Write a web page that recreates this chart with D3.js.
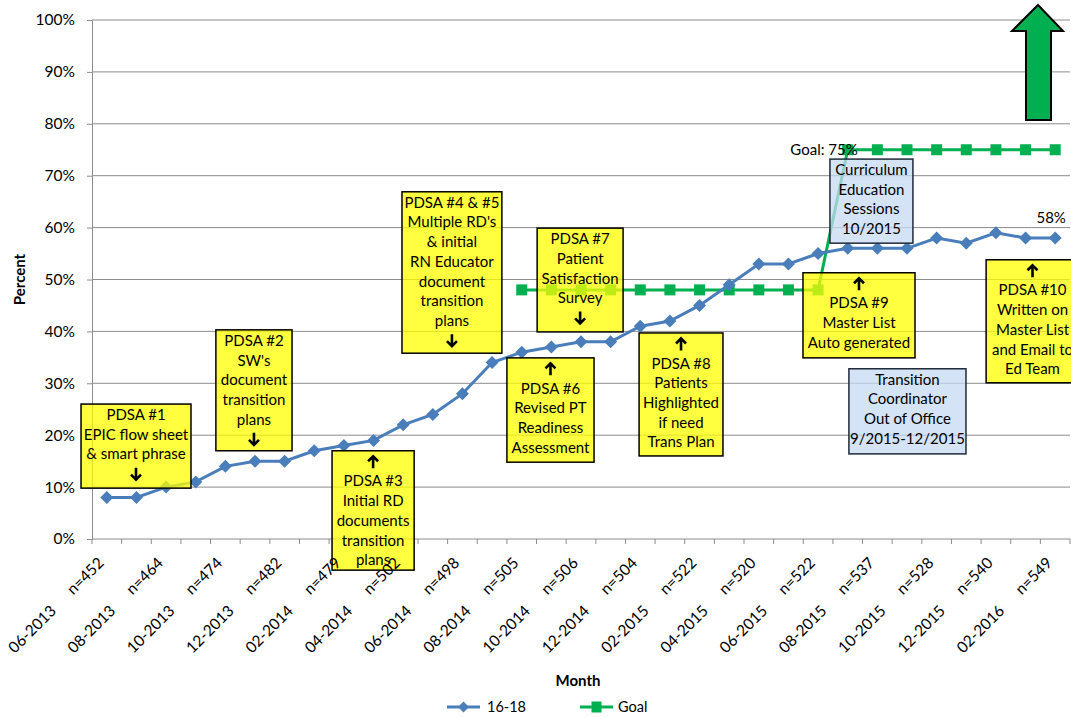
<!DOCTYPE html>
<html>
<head>
<meta charset="utf-8">
<title>Transition Plan Documentation</title>
<script src="https://d3js.org/d3.v7.min.js"></script>
<style>
    body { margin: 0; background: #fff; }
    text { font-family: Lato, "Open Sans", sans-serif; fill: #000; }
    .grid line { stroke: #8c8c8c; stroke-width: 1; }
    .note-text { font-size: 15px; }
</style>
</head>
<body>
<script>
    // months on the category axis
    var months = ["06-2013", "07-2013", "08-2013", "09-2013", "10-2013", "11-2013", "12-2013",
        "01-2014", "02-2014", "03-2014", "04-2014", "05-2014", "06-2014", "07-2014", "08-2014",
        "09-2014", "10-2014", "11-2014", "12-2014", "01-2015", "02-2015", "03-2015", "04-2015",
        "05-2015", "06-2015", "07-2015", "08-2015", "09-2015", "10-2015", "11-2015", "12-2015",
        "01-2016", "02-2016"];

    // sample sizes shown under every second month
    var sampleSizes = ["n=452", "n=464", "n=474", "n=482", "n=479", "n=502", "n=498", "n=505", "n=506",
        "n=504", "n=522", "n=520", "n=522", "n=537", "n=528", "n=540", "n=549"];

    // series "16-18" (percent)
    var rates = [8, 8, 10, 11, 14, 15, 15, 17, 18, 19, 22, 24, 28, 34, 36, 37, 38, 38, 41, 42, 45, 49,
        53, 53, 55, 56, 56, 56, 58, 57, 59, 58, 58];

    // series "Goal" (percent), empty before 10-2014
    var goal = [null, null, null, null, null, null, null, null, null, null, null, null, null, null,
        48, 48, 48, 48, 48, 48, 48, 48, 48, 48, 48,
        75, 75, 75, 75, 75, 75, 75, 75];

    var yTicks = [0, 10, 20, 30, 40, 50, 60, 70, 80, 90, 100];

    // call-out boxes: corners given in category units (x0,x1) and percent (y0 top, y1 bottom)
    var notes = [
        {lines: ["PDSA #1", "EPIC flow sheet", "& smart phrase"], arrow: "down", yellow: true, x0: -0.37, x1: 3.34, y0: 26.0, y1: 9.8},
        {lines: ["PDSA #2", "SW's", "document", "transition", "plans"], arrow: "down", yellow: true, x0: 4.18, x1: 6.75, y0: 40.3, y1: 17.0},
        {lines: ["PDSA #3", "Initial RD", "documents", "transition", "plans"], arrow: "up", yellow: true, x0: 8.10, x1: 10.87, y0: 17.0, y1: -6.0},
        {lines: ["PDSA #4 & #5", "Multiple RD's", "& initial", "RN Educator", "document", "transition", "plans"], arrow: "down", yellow: true, x0: 10.46, x1: 13.83, y0: 66.9, y1: 35.8},
        {lines: ["PDSA #6", "Revised PT", "Readiness", "Assessment"], arrow: "up", yellow: true, x0: 14.0, x1: 16.94, y0: 34.9, y1: 14.8},
        {lines: ["PDSA #7", "Patient", "Satisfaction", "Survey"], arrow: "down", yellow: true, x0: 15.02, x1: 17.92, y0: 59.9, y1: 39.9},
        {lines: ["PDSA #8", "Patients", "Highlighted", "if need", "Trans Plan"], arrow: "up", yellow: true, x0: 18.46, x1: 21.29, y0: 39.7, y1: 16.0},
        {lines: ["PDSA #9", "Master List", "Auto generated"], arrow: "up", yellow: true, x0: 23.99, x1: 27.77, y0: 51.3, y1: 34.9},
        {lines: ["PDSA #10", "Written on", "Master List", "and Email to", "Ed Team"], arrow: "up", yellow: true, x0: 30.17, x1: 33.3, y0: 53.8, y1: 30.1},
        {lines: ["Curriculum", "Education", "Sessions", "10/2015"], arrow: null, yellow: false, x0: 24.9, x1: 27.7, y0: 73.2, y1: 57.0},
        {lines: ["Transition", "Coordinator", "Out of Office", "9/2015-12/2015"], arrow: null, yellow: false, x0: 25.54, x1: 29.49, y0: 32.8, y1: 16.4}
    ];

    var w = 1071, h = 717;
    var plotLeft = 92, plotRight = 1070, plotTop = 20, plotBottom = 539;
    var blue = "#4a7ebb", green = "#00b050";

    var svg = d3.select("body").append("svg")
        .attr("width", w)
        .attr("height", h);

    var x = d3.scaleBand().domain(months).range([plotLeft, plotRight]).paddingInner(0).paddingOuter(0);
    var y = d3.scaleLinear().domain([0, 100]).range([plotBottom, plotTop]);
    var bw = x.bandwidth();
    function cx(i) { return x(months[i]) + bw / 2; }
    function fx(f) { return plotLeft + f * bw; }

    // gridlines
    svg.append("g").attr("class", "grid")
        .selectAll("line").data(yTicks.filter(function (d) { return d > 0; })).enter()
        .append("line")
        .attr("x1", plotLeft).attr("x2", plotRight)
        .attr("y1", function (d) { return y(d); }).attr("y2", function (d) { return y(d); });

    // y axis
    var yAxis = svg.append("g")
        .attr("transform", "translate(" + plotLeft + ",0)")
        .call(d3.axisLeft(y).tickValues(yTicks).tickSize(5).tickPadding(12)
            .tickFormat(function (d) { return d + "%"; }));
    yAxis.selectAll("path, line").attr("stroke", "#8c8c8c");
    yAxis.selectAll("text").style("font-family", "Lato, sans-serif").style("font-size", "15.5px").attr("fill", "#000");

    // x axis line and ticks between categories
    svg.append("line").attr("x1", plotLeft).attr("x2", plotRight).attr("y1", plotBottom).attr("y2", plotBottom)
        .attr("stroke", "#8c8c8c");
    svg.append("g").selectAll("line").data(months.concat([null])).enter().append("line")
        .attr("x1", function (d) { return d ? x(d) : plotRight; })
        .attr("x2", function (d) { return d ? x(d) : plotRight; })
        .attr("y1", plotBottom).attr("y2", plotBottom + 5)
        .attr("stroke", "#8c8c8c");

    // goal series
    var goalPts = goal.map(function (v, i) { return {i: i, v: v}; }).filter(function (d) { return d.v !== null; });
    var line = d3.line()
        .x(function (d) { return cx(d.i); })
        .y(function (d) { return y(d.v); });
    svg.append("path").datum(goalPts)
        .attr("d", line).attr("fill", "none").attr("stroke", green).attr("stroke-width", 3);
    svg.selectAll(".goal-pt").data(goalPts).enter().append("rect")
        .attr("class", "goal-pt")
        .attr("x", function (d) { return cx(d.i) - 5.5; })
        .attr("y", function (d) { return y(d.v) - 5.5; })
        .attr("width", 11).attr("height", 11).attr("fill", green);

    // 16-18 series
    var ratePts = rates.map(function (v, i) { return {i: i, v: v}; });
    svg.append("path").datum(ratePts)
        .attr("d", line).attr("fill", "none").attr("stroke", blue).attr("stroke-width", 3);
    var diamond = "M0,-6.5L6.5,0L0,6.5L-6.5,0Z";
    svg.selectAll(".rate-pt").data(ratePts).enter().append("path")
        .attr("class", "rate-pt")
        .attr("d", diamond)
        .attr("transform", function (d) { return "translate(" + cx(d.i) + "," + y(d.v) + ")"; })
        .attr("fill", blue);

    // call-out boxes
    var boxes = svg.selectAll(".note").data(notes).enter().append("g").attr("class", "note");
    boxes.append("rect")
        .attr("x", function (d) { return fx(d.x0); })
        .attr("y", function (d) { return y(d.y0); })
        .attr("width", function (d) { return fx(d.x1) - fx(d.x0); })
        .attr("height", function (d) { return y(d.y1) - y(d.y0); })
        .attr("fill", function (d) { return d.yellow ? "#ffff00" : "#c6d9f1"; })
        .attr("fill-opacity", 0.75)
        .attr("stroke", function (d) { return d.yellow ? "#000" : "#1f2a3a"; })
        .attr("stroke-width", 1.5);

    // bold arrow drawn as a small path, pointing down; flipped for "up"
    var arrowPath = "M0,-6.5V5.5M-5,0.5L0,5.5L5,0.5";

    boxes.each(function (d) {
        var g = d3.select(this);
        var mid = (fx(d.x0) + fx(d.x1)) / 2;
        var rows = d.lines.slice();
        if (d.arrow === "up") rows.unshift("UP");
        if (d.arrow === "down") rows.push("DOWN");
        var yy = y(d.y0) + 16;
        rows.forEach(function (r, k) {
            var by = yy + k * 19.7;
            if (r === "UP" || r === "DOWN") {
                g.append("path")
                    .attr("d", arrowPath)
                    .attr("transform", "translate(" + mid + "," + (by - 5) + ")" + (r === "UP" ? " scale(1,-1)" : ""))
                    .attr("fill", "none").attr("stroke", "#000").attr("stroke-width", 2.6);
            } else {
                g.append("text")
                    .attr("class", "note-text")
                    .attr("x", mid)
                    .attr("y", by)
                    .attr("text-anchor", "middle")
                    .text(r);
            }
        });
    });

    // x labels: month and sample size, every second month
    var labelled = months.filter(function (m, i) { return i % 2 === 0; });
    var xl = svg.selectAll(".xlab").data(labelled).enter().append("text")
        .attr("class", "xlab")
        .attr("text-anchor", "end")
        .style("font-size", "15.5px")
        .attr("transform", function (d) {
            return "translate(" + (x(d) + bw / 2 - 2) + "," + (plotBottom + 25) + ") rotate(-45)";
        });
    xl.append("tspan").text(function (d) { return d; });
    xl.append("tspan").attr("dx", 23).text(function (d, i) { return sampleSizes[i]; });

    // data labels
    svg.append("text")
        .attr("x", cx(25) + 10).attr("y", y(75) + 5)
        .attr("text-anchor", "end").style("font-size", "15px")
        .text("Goal: " + goal[25] + "%");
    svg.append("text")
        .attr("x", cx(32) - 4).attr("y", y(rates[32]) - 15)
        .attr("text-anchor", "middle").style("font-size", "15px")
        .text(rates[32] + "%");

    // axis titles
    svg.append("text")
        .attr("transform", "translate(25," + ((plotTop + plotBottom) / 2) + ") rotate(-90)")
        .attr("text-anchor", "middle").style("font-size", "15px").style("font-weight", "bold")
        .text("Percent");
    svg.append("text")
        .attr("x", 578).attr("y", 686)
        .attr("text-anchor", "middle").style("font-size", "15px").style("font-weight", "bold")
        .text("Month");

    // big green arrow, top right
    svg.append("path")
        .attr("d", "M1038,5L1063,31L1051,31L1051,120L1026,120L1026,31L1012,31Z")
        .attr("fill", green).attr("stroke", "#000").attr("stroke-width", 2)
        .attr("stroke-linejoin", "miter");

    // legend
    var legend = [{name: "16-18", color: blue, shape: "diamond", x: 447},
                  {name: "Goal", color: green, shape: "square", x: 580}];
    var lg = svg.selectAll(".leg").data(legend).enter().append("g")
        .attr("transform", function (d) { return "translate(" + d.x + ",707)"; });
    lg.append("line").attr("x1", 0).attr("x2", 33).attr("stroke", function (d) { return d.color; })
        .attr("stroke-width", 3);
    lg.append("path")
        .attr("d", function (d) { return d.shape === "diamond" ? "M16.5,-5.5L22,0L16.5,5.5L11,0Z" : "M11.5,-5.5h10v11h-10Z"; })
        .attr("fill", function (d) { return d.color; });
    lg.append("text").attr("x", function (d) { return d.shape === "diamond" ? 40 : 38; }).attr("y", 5)
        .style("font-size", "14.5px").text(function (d) { return d.name; });
</script>
</body>
</html>
